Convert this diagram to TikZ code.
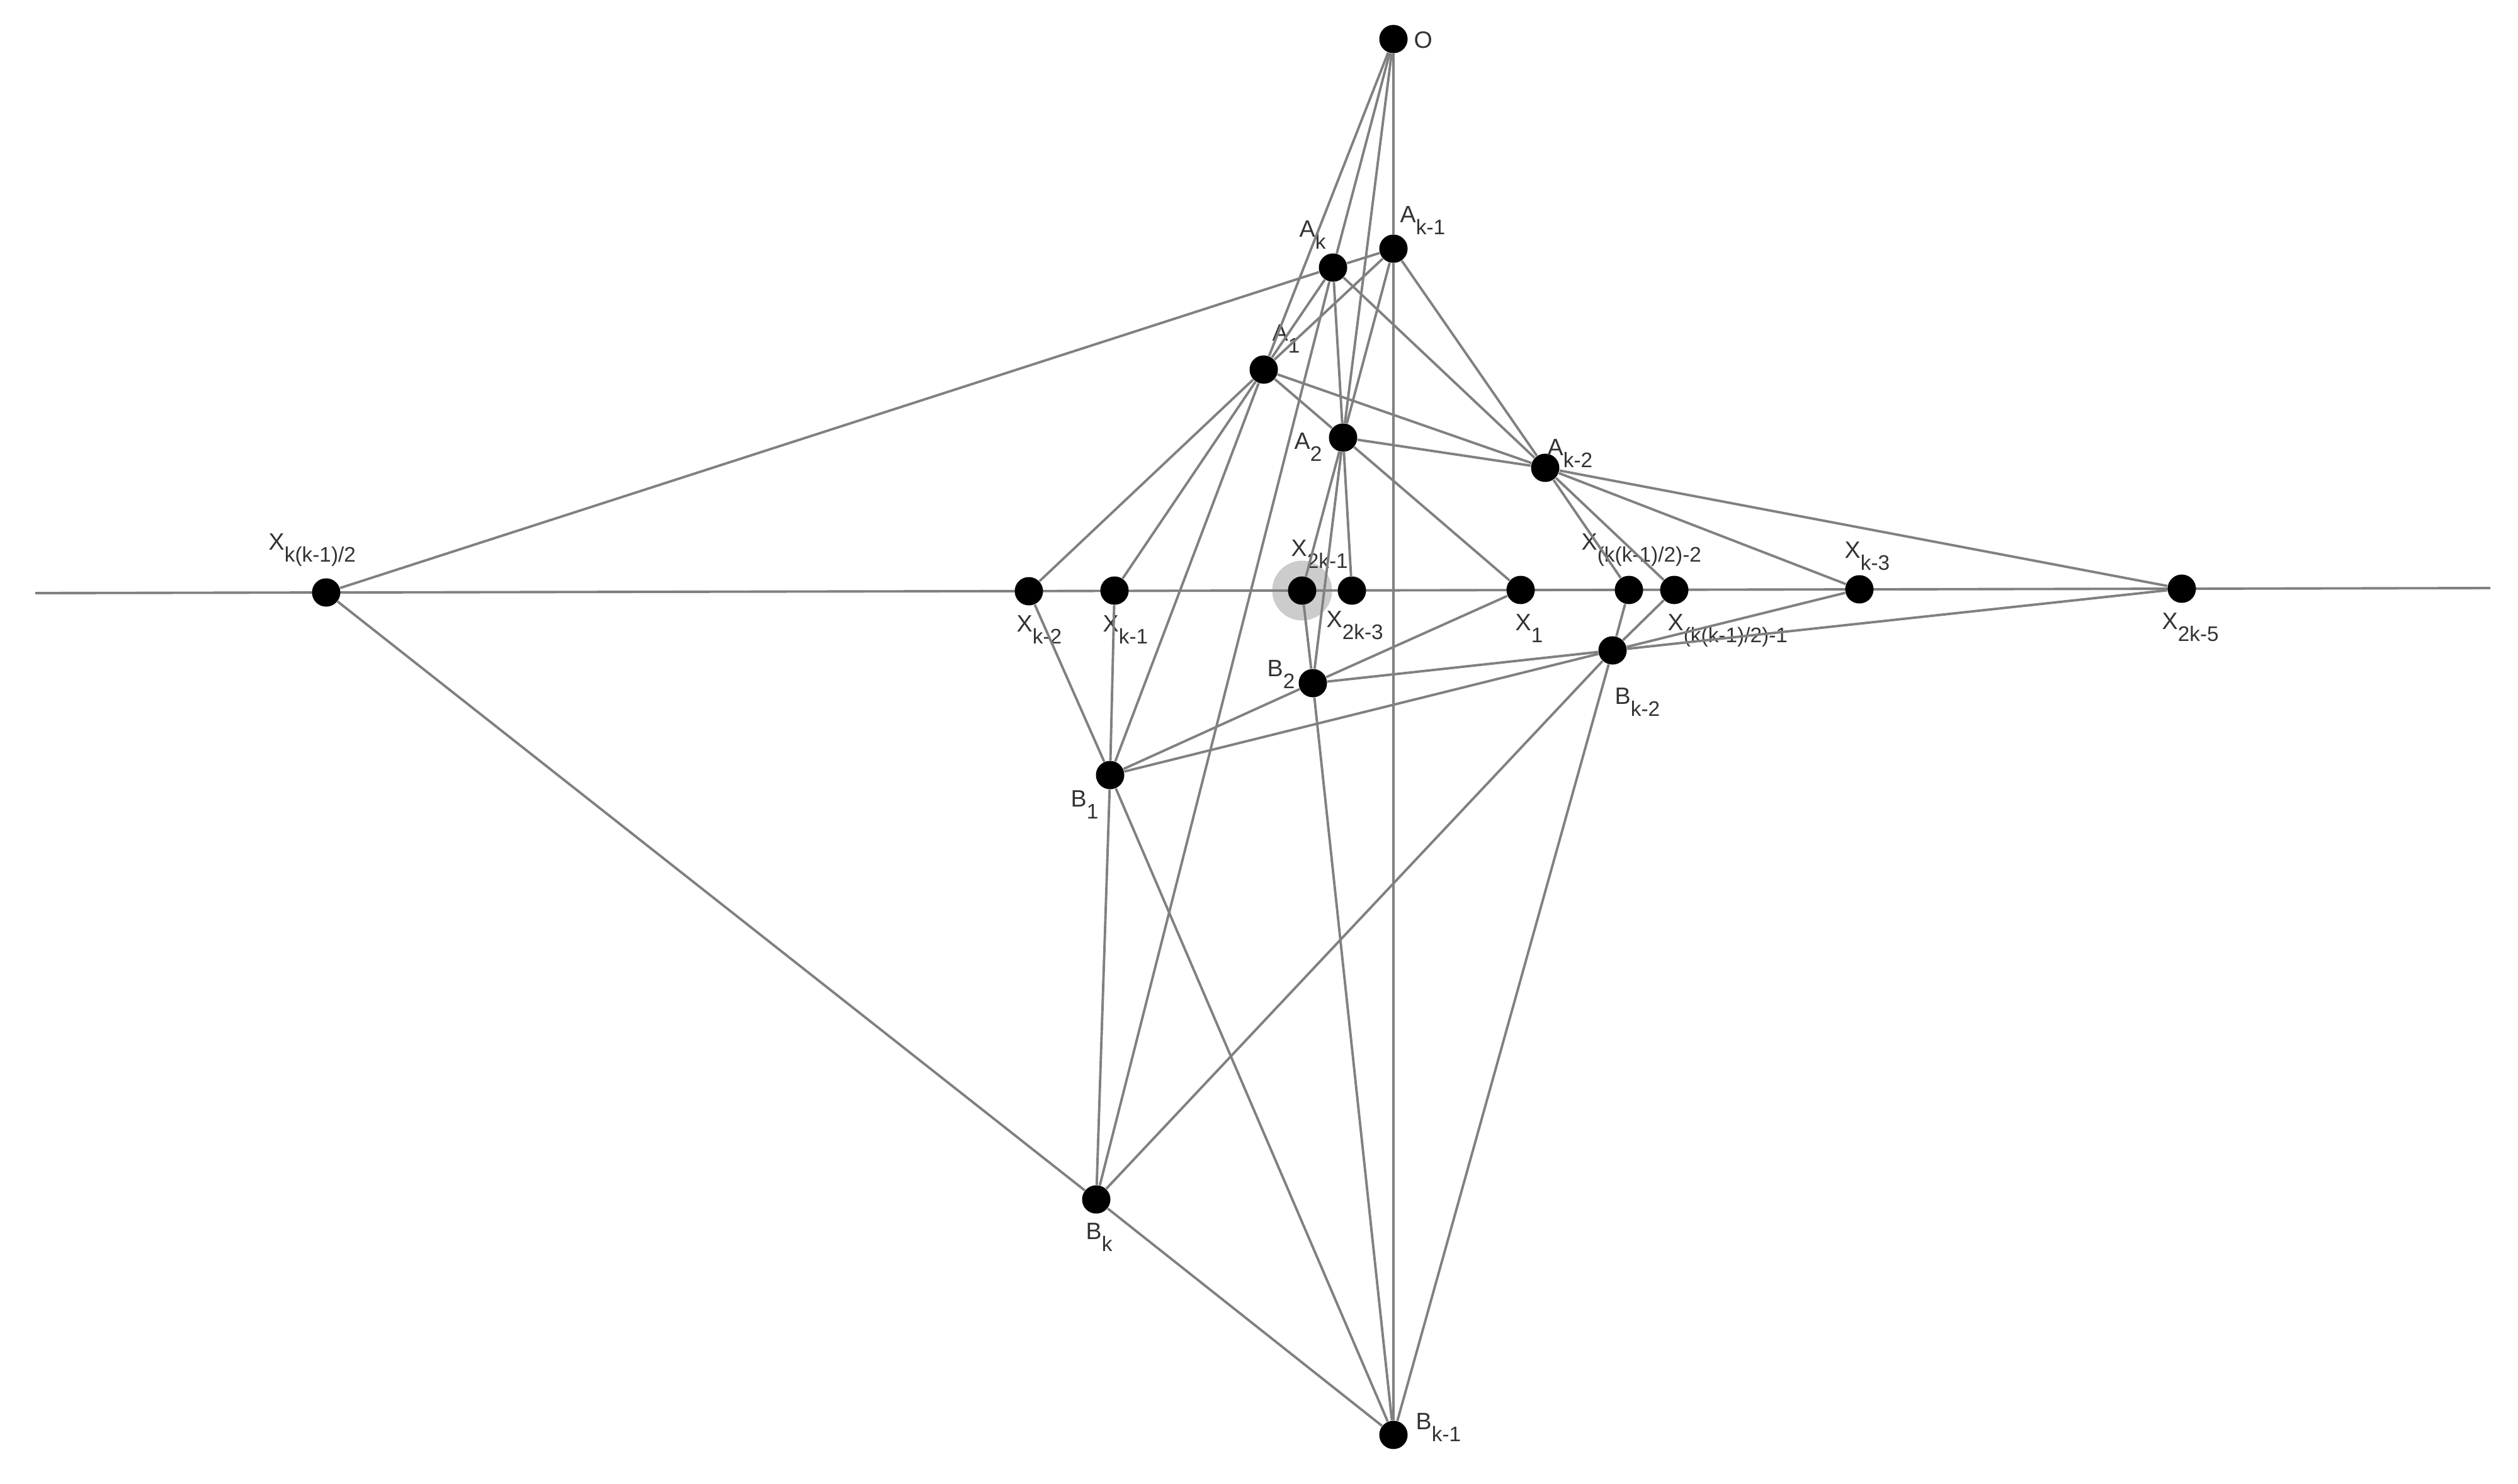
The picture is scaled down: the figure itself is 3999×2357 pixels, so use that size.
\documentclass[tikz,border=0pt]{standalone}
\usepackage{fontspec}
\setmainfont{Liberation Sans}
\usetikzlibrary{positioning}
\newcommand{\sub}[1]{\raisebox{-5.3pt}{\fontsize{9.5}{9.5}\selectfont #1}}
\tikzset{
    x=0.01cm, y=-0.01cm, % one unit is one pixel of the drawing, y grows downwards
    vertex/.style={circle, fill=black, inner sep=0pt, minimum size=0.45cm}, % the points
    halo/.style={circle, fill=gray!40, inner sep=0pt, minimum size=0.95cm}, % the selected point
    lbl/.style={anchor=north west, inner sep=0pt, text=black!80, font=\fontsize{10.7}{12}\selectfont}, % the names of the points
    every edge/.style={draw, gray, line width=1.1pt}, % the segments
}
\begin{document}
\begin{tikzpicture}
    \useasboundingbox (0,0) rectangle (3999,2357);
    % the line
    \coordinate (L) at (56,942);
    \coordinate (R) at (3955,934);
    \node[halo] (H) at (2068,938) {};
    \draw (L) edge (R);
    % points above the line
    \node[vertex] (O) at (2213,62) {};
    \node[vertex] (Ak) at (2117,425) {};
    \node[vertex] (Ak1) at (2213,395) {};
    \node[vertex] (A1) at (2007,587) {};
    \node[vertex] (A2) at (2133,695) {};
    \node[vertex] (Ak2) at (2454,743) {};
    % points on the line
    \node[vertex] (Xkk) at (518,941) {};
    \node[vertex] (Xk2) at (1634,939) {};
    \node[vertex] (Xk1) at (1770,938) {};
    \node[vertex] (X2k1) at (2068,938) {};
    \node[vertex] (X2k3) at (2147,938) {};
    \node[vertex] (X1) at (2415,937) {};
    \node[vertex] (Xm2) at (2587,937) {};
    \node[vertex] (Xm1) at (2659,937) {};
    \node[vertex] (Xk3) at (2953,936) {};
    \node[vertex] (X2k5) at (3465,935) {};
    % points below the line
    \node[vertex] (B2) at (2085,1085) {};
    \node[vertex] (B1) at (1763,1231) {};
    \node[vertex] (Bk2) at (2561,1033) {};
    \node[vertex] (Bk) at (1741,1905) {};
    \node[vertex] (Bk1) at (2213,2279) {};
    % names
    \node[lbl] (lO) at (2245,50) {O};
    \node[lbl] (lAk) at (2063,350) {A\sub{k}};
    \node[lbl] (lAk1) at (2223,327) {A\sub{k-1}};
    \node[lbl] (lA1) at (2020,515) {A\sub{1}};
    \node[lbl] (lA2) at (2055,687) {A\sub{2}};
    \node[lbl] (lAk2) at (2457,697) {A\sub{k-2}};
    \node[lbl] (lXkk) at (426,847) {X\sub{k(k-1)/2}};
    \node[lbl] (lXk2) at (1614,977) {X\sub{k-2}};
    \node[lbl] (lXk1) at (1751,977) {X\sub{k-1}};
    \node[lbl] (lX2k1) at (2050,857) {X\sub{2k-1}};
    \node[lbl] (lX2k3) at (2106,970) {X\sub{2k-3}};
    \node[lbl] (lX1) at (2406,975) {X\sub{1}};
    \node[lbl] (lXm2) at (2511,847) {X\sub{(k(k-1)/2)-2}};
    \node[lbl] (lXm1) at (2648,975) {X\sub{(k(k-1)/2)-1}};
    \node[lbl] (lXk3) at (2929,860) {X\sub{k-3}};
    \node[lbl] (lX2k5) at (3433,973) {X\sub{2k-5}};
    \node[lbl] (lB2) at (2012,1048) {B\sub{2}};
    \node[lbl] (lB1) at (1700,1255) {B\sub{1}};
    \node[lbl] (lBk2) at (2564,1092) {B\sub{k-2}};
    \node[lbl] (lBk) at (1724,1942) {B\sub{k}};
    \node[lbl] (lBk1) at (2248,2244) {B\sub{k-1}};
    % segments
    \draw
    (O) edge (Ak) edge (A1) edge (A2) edge (Ak1)
    (Ak1) edge (Bk1) edge (Ak) edge (A1) edge (A2) edge (Ak2)
    (Ak) edge (A1) edge (A2) edge (Ak2) edge (Xkk) edge (Bk)
    (A1) edge (A2) edge (Ak2) edge (Xk2) edge (Xk1) edge (B1)
    (A2) edge (Ak2) edge (X2k1) edge (X2k3) edge (B2) edge (X1)
    (Ak2) edge (Xm2) edge (Xm1) edge (Xk3) edge (X2k5)
    (Bk2) edge (Xm2) edge (Xm1) edge (Xk3) edge (X2k5) edge (B2) edge (B1) edge (Bk) edge (Bk1)
    (B1) edge (Xk2) edge (Xk1) edge (B2) edge (Bk) edge (Bk1)
    (B2) edge (X2k1) edge (X1) edge (Bk1)
    (Bk) edge (Xkk) edge (Bk1);
\end{tikzpicture}
\end{document}
